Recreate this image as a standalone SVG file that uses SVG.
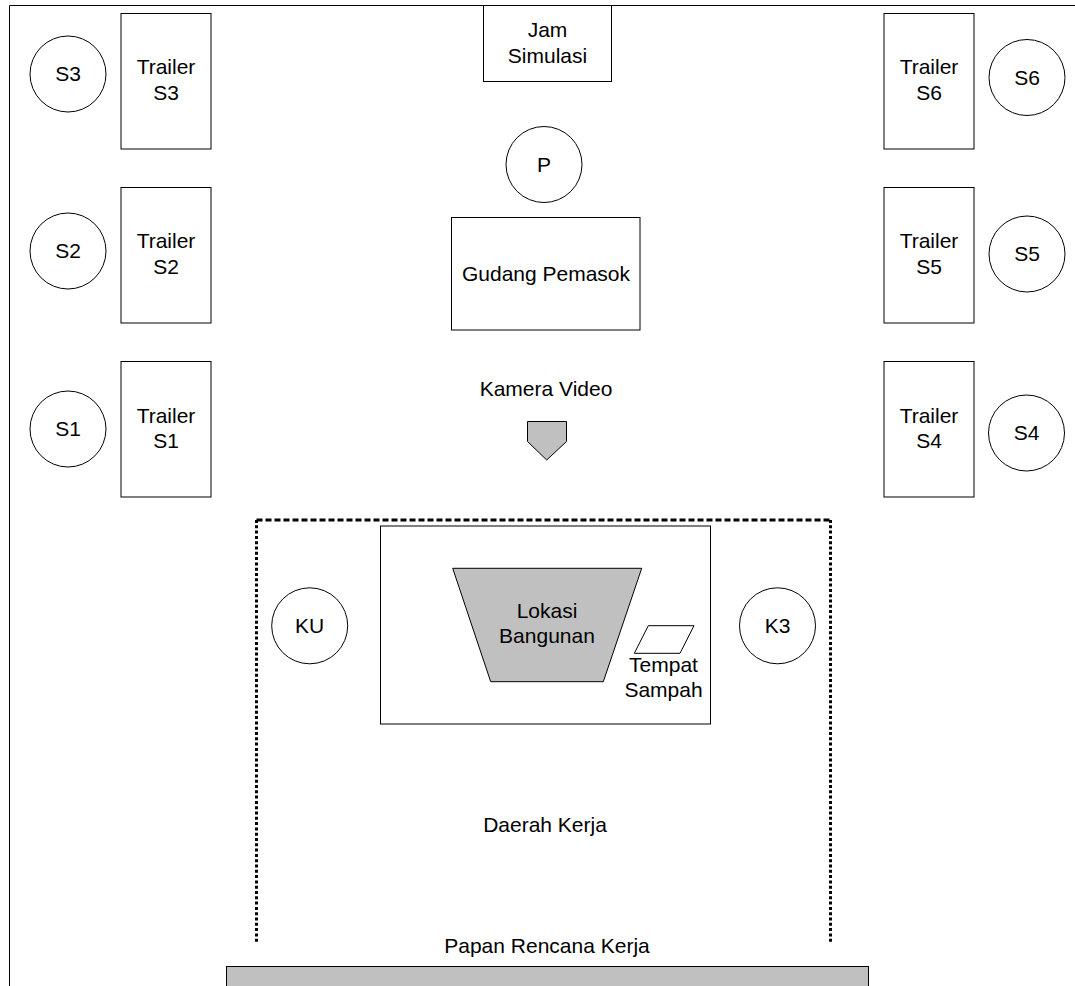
<svg xmlns="http://www.w3.org/2000/svg" width="1075" height="986" viewBox="0 0 1075 986">
  <style>
    .box { fill: #ffffff; stroke: #000000; stroke-width: 1; }
    .solid { fill: #c0c0c0; stroke: #000000; stroke-width: 1; }
    .ring { fill: #ffffff; stroke: #000000; stroke-width: 1; }
    .lbl { font-family: "Liberation Sans", Arial, sans-serif; font-size: 21px; fill: #000000; text-anchor: middle; }
    .edge { fill: none; stroke: #000000; stroke-width: 1; }
    .zoneH { fill: none; stroke: #000000; stroke-width: 3; stroke-dasharray: 6 3; }
    .zoneV { fill: none; stroke: #000000; stroke-width: 3; stroke-dasharray: 3 2.3; }
  </style>
  <rect width="1075" height="986" fill="#ffffff"/>

  <!-- site boundary -->
  <g id="frame">
    <path class="edge" d="M9.5,986 V5.5 H1075"/>
  </g>

  <!-- suppliers on the left -->
  <g id="s3"><circle class="ring" cx="68" cy="74" r="38"/><text class="lbl" x="68" y="81">S3</text></g>
  <g id="trailer-s3"><rect class="box" x="121" y="13.5" width="90" height="135.5"/><text class="lbl" x="166" y="74">Trailer</text><text class="lbl" x="166" y="100">S3</text></g>
  <g id="s2"><circle class="ring" cx="68" cy="251" r="38"/><text class="lbl" x="68" y="258">S2</text></g>
  <g id="trailer-s2"><rect class="box" x="121" y="187.5" width="90" height="135.5"/><text class="lbl" x="166" y="248">Trailer</text><text class="lbl" x="166" y="274">S2</text></g>
  <g id="s1"><circle class="ring" cx="68" cy="429" r="38"/><text class="lbl" x="68" y="436">S1</text></g>
  <g id="trailer-s1"><rect class="box" x="121" y="361.5" width="90" height="135.5"/><text class="lbl" x="166" y="422.5">Trailer</text><text class="lbl" x="166" y="448">S1</text></g>

  <!-- suppliers on the right -->
  <g id="trailer-s6"><rect class="box" x="884" y="13.5" width="90" height="135.5"/><text class="lbl" x="929" y="74">Trailer</text><text class="lbl" x="929" y="100">S6</text></g>
  <g id="s6"><circle class="ring" cx="1027" cy="77.5" r="38"/><text class="lbl" x="1027" y="84.5">S6</text></g>
  <g id="trailer-s5"><rect class="box" x="884" y="187.5" width="90" height="135.5"/><text class="lbl" x="929" y="248">Trailer</text><text class="lbl" x="929" y="274">S5</text></g>
  <g id="s5"><circle class="ring" cx="1027" cy="254" r="38"/><text class="lbl" x="1027" y="261">S5</text></g>
  <g id="trailer-s4"><rect class="box" x="884" y="361.5" width="90" height="135.5"/><text class="lbl" x="929" y="422.5">Trailer</text><text class="lbl" x="929" y="448">S4</text></g>
  <g id="s4"><circle class="ring" cx="1026.5" cy="433" r="38"/><text class="lbl" x="1026.5" y="440">S4</text></g>

  <!-- centre column -->
  <g id="jam-simulasi"><rect class="box" x="483.5" y="5.5" width="128" height="76"/><text class="lbl" x="547.5" y="37">Jam</text><text class="lbl" x="547.5" y="63">Simulasi</text></g>
  <g id="p"><circle class="ring" cx="544" cy="164.5" r="38"/><text class="lbl" x="544" y="171.5">P</text></g>
  <g id="gudang-pemasok"><rect class="box" x="451.5" y="217.5" width="188.5" height="112.5"/><text class="lbl" x="546" y="281">Gudang Pemasok</text></g>
  <g id="kamera-video">
    <text class="lbl" x="546" y="396">Kamera Video</text>
    <polygon class="solid" points="527.5,421.5 566.5,421.5 566.5,441.5 546.7,460 527.5,441.5"/>
  </g>

  <!-- work area -->
  <g id="daerah-kerja">
    <path class="zoneH" d="M256.5,520 H830.5"/>
    <path class="zoneV" d="M256.5,520 V944"/>
    <path class="zoneV" d="M830.5,520 V944"/>
    <text class="lbl" x="545" y="832">Daerah Kerja</text>
  </g>
  <g id="area-bangunan"><rect class="box" x="380.5" y="526" width="330" height="198"/></g>
  <g id="lokasi-bangunan">
    <polygon class="solid" points="452.7,568.3 641.7,568.3 603.3,681.7 490.7,681.7"/>
    <text class="lbl" x="547" y="618">Lokasi</text>
    <text class="lbl" x="547" y="643.3">Bangunan</text>
  </g>
  <g id="tempat-sampah">
    <polygon class="box" points="648.3,625.7 694,625.7 680,653.3 634.3,653.3"/>
    <text class="lbl" x="663.5" y="672.3">Tempat</text>
    <text class="lbl" x="663.5" y="696.7">Sampah</text>
  </g>
  <g id="ku"><circle class="ring" cx="309.7" cy="625.8" r="38"/><text class="lbl" x="309.7" y="633">KU</text></g>
  <g id="k3"><circle class="ring" cx="777.5" cy="625.8" r="38"/><text class="lbl" x="777.5" y="633">K3</text></g>

  <!-- planning board -->
  <g id="papan-rencana-kerja">
    <text class="lbl" x="547" y="953">Papan Rencana Kerja</text>
    <rect class="solid" x="226.5" y="966.5" width="642" height="25"/>
  </g>

  <!-- no connectors in this layout -->
  <g id="connectors"/>
</svg>
